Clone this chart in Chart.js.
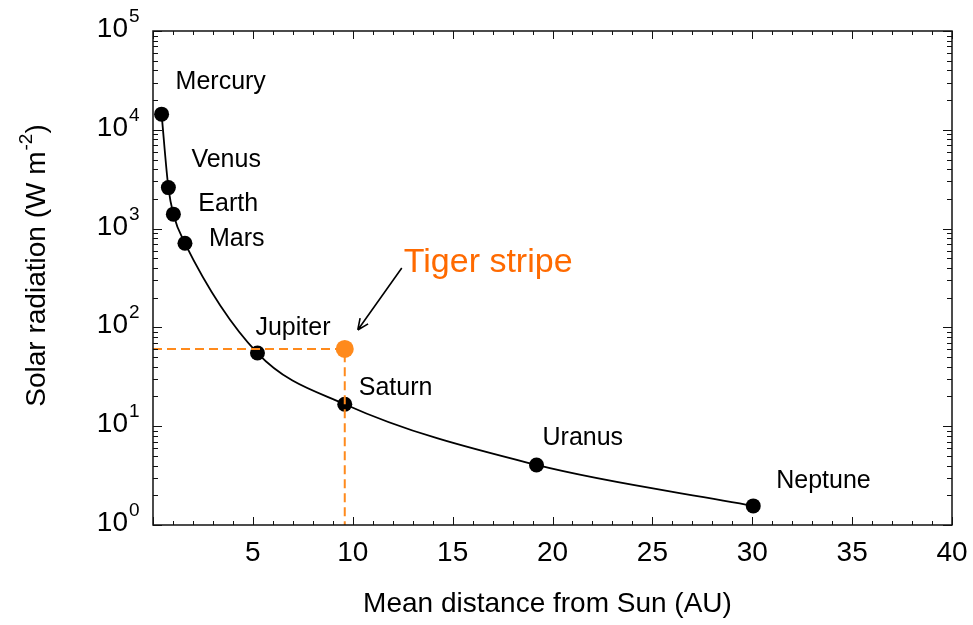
<!DOCTYPE html>
<html>
<head>
<meta charset="utf-8">
<script src="https://cdn.jsdelivr.net/npm/chart.js@4.4.1/dist/chart.umd.min.js"></script>
<style>
  html, body { margin: 0; padding: 0; background: #fff; }
  #wrap { width: 973px; height: 625px; }
</style>
</head>
<body>
<div id="wrap"><canvas id="chart" width="973" height="625"></canvas></div>
<script>
// values
const planetNames = ['Mercury', 'Venus', 'Earth', 'Mars', 'Jupiter', 'Saturn', 'Uranus', 'Neptune'];
const planetDistance = [0.43, 0.77, 1.02, 1.6, 5.23, 9.6, 19.2, 30.05];
const planetRadiation = [14400, 2600, 1400, 710, 55, 16.7, 4.05, 1.56];
const tigerDistance = 9.6;
const tigerRadiation = 60.5;
const xTickLabels = ['5', '10', '15', '20', '25', '30', '35', '40'];
const yTickExponents = ['0', '1', '2', '3', '4', '5'];

const FONT = '"Liberation Sans", Arial, sans-serif';
const ORANGE = '#ff8a1c';

// label placement, px from the marker
const labelOffsets = [[14, -25], [23, -21], [25, -3], [24, 3], [-2, -18], [14, -9], [6, -20], [23, -18]];

const planetPoints = planetDistance.map((d, i) => ({ x: d, y: planetRadiation[i] }));

const axesPlugin = {
    id: 'axesPlugin',
    afterDraw(chart) {
        const ctx = chart.ctx;
        const xs = chart.scales.x;
        const ys = chart.scales.y;
        const a = chart.chartArea;
        ctx.save();

        // frame
        ctx.strokeStyle = '#111';
        ctx.lineWidth = 1.5;
        ctx.strokeRect(a.left, a.top, a.right - a.left, a.bottom - a.top);

        // x ticks (inward, top and bottom)
        ctx.lineWidth = 1;
        ctx.beginPath();
        for (let v = xs.min; v <= xs.max; v++) {
            const px = Math.round(xs.getPixelForValue(v)) + 0.5;
            const len = v % 5 === 0 ? 8 : 4;
            ctx.moveTo(px, a.bottom); ctx.lineTo(px, a.bottom - len);
            ctx.moveTo(px, a.top); ctx.lineTo(px, a.top + len);
        }
        // y ticks (log, inward, left and right)
        for (let e = 0; e <= 5; e++) {
            const base = Math.pow(10, e);
            for (let m = 1; m <= 9; m++) {
                const v = base * m;
                if (v > ys.max) break;
                const py = Math.round(ys.getPixelForValue(v)) + 0.5;
                const len = m === 1 ? 9 : 5;
                ctx.moveTo(a.left, py); ctx.lineTo(a.left + len, py);
                ctx.moveTo(a.right, py); ctx.lineTo(a.right - len, py);
            }
        }
        ctx.stroke();

        // tick labels
        ctx.fillStyle = '#000';
        ctx.font = '28px ' + FONT;
        ctx.textAlign = 'center';
        ctx.textBaseline = 'alphabetic';
        xTickLabels.forEach(t => {
            ctx.fillText(t, xs.getPixelForValue(Number(t)), a.bottom + 36);
        });
        yTickExponents.forEach(e => {
            const py = ys.getPixelForValue(Math.pow(10, Number(e)));
            ctx.font = '28px ' + FONT;
            ctx.textAlign = 'right';
            ctx.fillText('10', a.left - 25, py + 6);
            ctx.font = '19px ' + FONT;
            ctx.textAlign = 'left';
            ctx.fillText(e, a.left - 24, py - 9);
        });

        // axis titles
        ctx.font = '28px ' + FONT;
        ctx.textAlign = 'center';
        ctx.fillText('Mean distance from Sun (AU)', (a.left + a.right) / 2 - 5, a.bottom + 87);

        ctx.save();
        ctx.translate(45, 266);
        ctx.rotate(-Math.PI / 2);
        const mainTxt = 'Solar radiation (W m';
        ctx.font = '28px ' + FONT;
        const w1 = ctx.measureText(mainTxt).width;
        ctx.font = '19px ' + FONT;
        const w2 = ctx.measureText('-2').width;
        ctx.font = '28px ' + FONT;
        const w3 = ctx.measureText(')').width;
        let sx = -(w1 + w2 + w3) / 2;
        ctx.textAlign = 'left';
        ctx.fillText(mainTxt, sx, 0);
        ctx.font = '19px ' + FONT;
        ctx.fillText('-2', sx + w1 + 1, -13);
        ctx.font = '28px ' + FONT;
        ctx.fillText(')', sx + w1 + w2 + 1, 0);
        ctx.restore();

        // planet labels
        ctx.font = '25px ' + FONT;
        ctx.textAlign = 'left';
        planetNames.forEach((n, i) => {
            const px = xs.getPixelForValue(planetDistance[i]);
            const py = ys.getPixelForValue(planetRadiation[i]);
            ctx.fillText(n, px + labelOffsets[i][0], py + labelOffsets[i][1]);
        });

        // tiger stripe label and arrow
        const tx = xs.getPixelForValue(tigerDistance);
        const ty = ys.getPixelForValue(tigerRadiation);
        ctx.fillStyle = '#ff6a00';
        ctx.font = '34px ' + FONT;
        ctx.fillText('Tiger stripe', tx + 59, ty - 77);

        const x0 = tx + 57, y0 = ty - 81, x1 = tx + 13, y1 = ty - 19;
        const ang = Math.atan2(y1 - y0, x1 - x0);
        ctx.strokeStyle = '#000';
        ctx.lineWidth = 1.6;
        ctx.beginPath();
        ctx.moveTo(x0, y0); ctx.lineTo(x1, y1);
        ctx.moveTo(x1, y1);
        ctx.lineTo(x1 - 12 * Math.cos(ang - 0.42), y1 - 12 * Math.sin(ang - 0.42));
        ctx.moveTo(x1, y1);
        ctx.lineTo(x1 - 12 * Math.cos(ang + 0.42), y1 - 12 * Math.sin(ang + 0.42));
        ctx.stroke();

        ctx.restore();
    }
};

new Chart(document.getElementById('chart'), {
    type: 'scatter',
    data: {
        datasets: [
            {
                // guide lines to the tiger stripe value
                data: [{ x: 0, y: tigerRadiation }, { x: tigerDistance, y: tigerRadiation }, { x: tigerDistance, y: 1 }],
                showLine: true,
                borderColor: ORANGE,
                borderWidth: 2,
                borderDash: [9, 5],
                pointRadius: 0,
                clip: false
            },
            {
                data: planetPoints,
                showLine: true,
                borderColor: '#000',
                borderWidth: 1.8,
                cubicInterpolationMode: 'monotone',
                pointRadius: 0
            },
            {
                data: planetPoints,
                pointRadius: 7.5,
                pointBackgroundColor: '#000',
                pointBorderWidth: 0,
                clip: false
            },
            {
                data: [{ x: tigerDistance, y: tigerRadiation }],
                pointRadius: 9,
                pointBackgroundColor: ORANGE,
                pointBorderWidth: 0,
                clip: false
            }
        ]
    },
    options: {
        responsive: false,
        animation: false,
        devicePixelRatio: 1,
        layout: { padding: { left: 153, right: 21, top: 31, bottom: 100 } },
        plugins: { legend: { display: false }, tooltip: { enabled: false } },
        scales: {
            x: { type: 'linear', min: 0, max: 40, display: false },
            y: { type: 'logarithmic', min: 1, max: 100000, display: false }
        }
    },
    plugins: [axesPlugin]
});
</script>
</body>
</html>
